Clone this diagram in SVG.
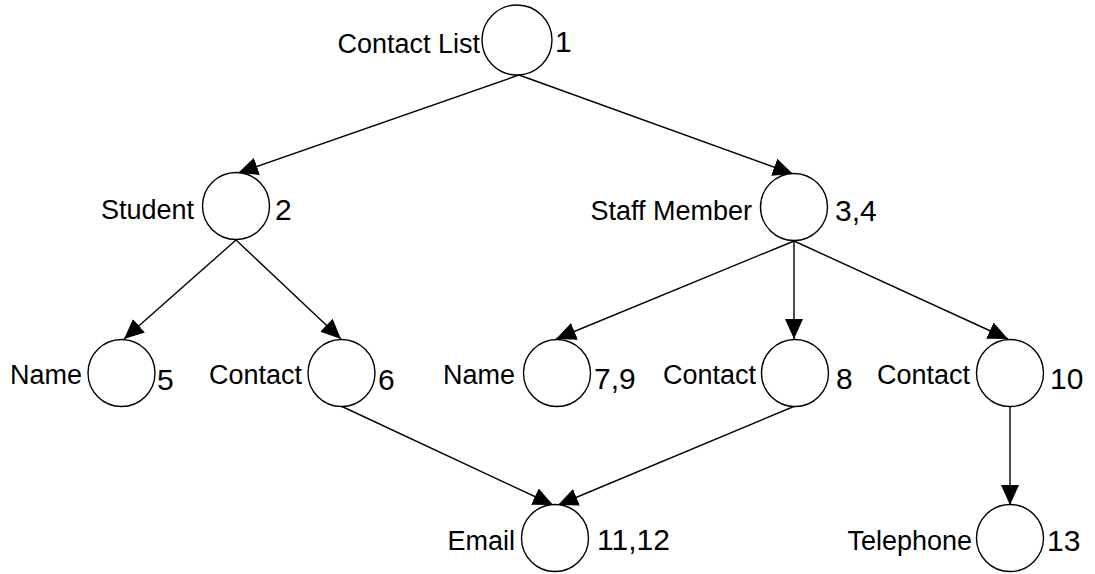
<svg xmlns="http://www.w3.org/2000/svg" width="1095" height="574" viewBox="0 0 1095 574">
<defs>
<marker id="arr" markerUnits="userSpaceOnUse" markerWidth="20" markerHeight="18" refX="20" refY="9" orient="auto" viewBox="0 0 20 18">
<path d="M0,0 L20,9 L0,18 z" fill="#000"/>
</marker>
<style>
.n{fill:#fff;stroke:#000;stroke-width:1.4}
.l{font-family:"Liberation Sans",Arial,sans-serif;font-size:27px;fill:#000;text-anchor:end}
.k{font-family:"Liberation Sans",Arial,sans-serif;font-size:30px;fill:#000}
.c{stroke:#000;stroke-width:1.4;fill:none;marker-end:url(#arr)}
</style>
</defs>
<rect width="1095" height="574" fill="#fff"/>
<g id="connectors">
<line class="c" x1="519" y1="75" x2="238" y2="173"/>
<line class="c" x1="519" y1="75" x2="793" y2="174"/>
<line class="c" x1="236" y1="240" x2="124" y2="339"/>
<line class="c" x1="236" y1="240" x2="341" y2="339"/>
<line class="c" x1="794" y1="241" x2="556" y2="339"/>
<line class="c" x1="794" y1="241" x2="794" y2="339"/>
<line class="c" x1="794" y1="241" x2="1008" y2="339"/>
<line class="c" x1="341" y1="406" x2="553" y2="505"/>
<line class="c" x1="795" y1="406" x2="558" y2="505"/>
<line class="c" x1="1010" y1="406" x2="1010" y2="505"/>
</g>
<g id="contact-list">
<circle class="n" cx="517" cy="40" r="35"/>
<text class="l" x="480" y="53">Contact List</text>
<text class="k" x="555" y="52">1</text>
</g>
<g id="student">
<circle class="n" cx="236" cy="206" r="33.5"/>
<text class="l" x="194" y="219">Student</text>
<text class="k" x="275" y="220">2</text>
</g>
<g id="staff-member">
<circle class="n" cx="794" cy="207" r="33.5"/>
<text class="l" x="752" y="220">Staff Member</text>
<text class="k" x="835" y="221">3,4</text>
</g>
<g id="name-1">
<circle class="n" cx="121.5" cy="373" r="33.5"/>
<text class="l" x="82" y="384">Name</text>
<text class="k" x="157" y="390">5</text>
</g>
<g id="contact-1">
<circle class="n" cx="341.5" cy="373" r="33.5"/>
<text class="l" x="302" y="384">Contact</text>
<text class="k" x="378" y="390">6</text>
</g>
<g id="name-2">
<circle class="n" cx="557" cy="373" r="33.5"/>
<text class="l" x="515" y="384">Name</text>
<text class="k" x="594" y="389">7,9</text>
</g>
<g id="contact-2">
<circle class="n" cx="795" cy="373" r="33.5"/>
<text class="l" x="756" y="384">Contact</text>
<text class="k" x="836" y="389">8</text>
</g>
<g id="contact-3">
<circle class="n" cx="1010" cy="373" r="33.5"/>
<text class="l" x="970" y="384">Contact</text>
<text class="k" x="1050" y="389">10</text>
</g>
<g id="email">
<circle class="n" cx="555" cy="538" r="33.5"/>
<text class="l" x="515" y="550">Email</text>
<text class="k" x="597" y="550">11,12</text>
</g>
<g id="telephone">
<circle class="n" cx="1010" cy="538" r="33.5"/>
<text class="l" x="972" y="550">Telephone</text>
<text class="k" x="1047" y="551">13</text>
</g>
</svg>
